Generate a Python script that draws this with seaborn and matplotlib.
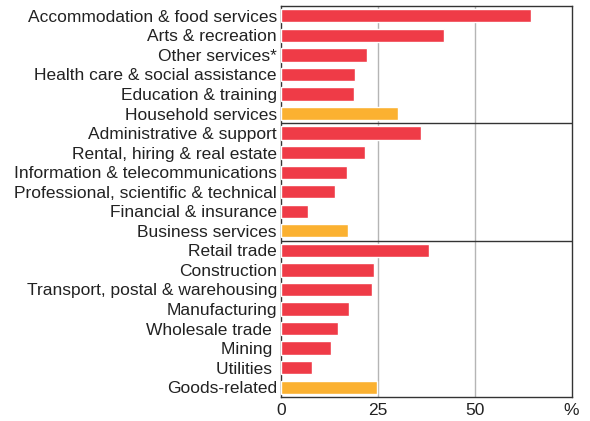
import numpy as np
import pandas as pd
import matplotlib
matplotlib.use("Agg")
import matplotlib.pyplot as plt
import seaborn as sns

categories = [
    "Accommodation & food services", "Arts & recreation", "Other services*",
    "Health care & social assistance", "Education & training", "Household services",
    "Administrative & support", "Rental, hiring & real estate",
    "Information & telecommunications", "Professional, scientific & technical",
    "Financial & insurance", "Business services",
    "Retail trade", "Construction", "Transport, postal & warehousing",
    "Manufacturing", "Wholesale trade ", "Mining ", "Utilities ", "Goods-related",
]
values = [64.4, 42.1, 22.2, 19.1, 18.9, 30.2,
          36.2, 21.6, 17.1, 13.9, 7.0, 17.2,
          38.1, 24.0, 23.6, 17.6, 14.8, 13.0, 8.1, 24.8]
kind = ["industry"] * 5 + ["total"] + ["industry"] * 5 + ["total"] + ["industry"] * 7 + ["total"]
xticks = [0, 25, 50, 75]
xticklabels = ["0", "25", "50", "%"]
group_breaks = [5.5, 11.5]

df = pd.DataFrame({"category": categories, "value": values, "kind": kind})
palette = {"industry": "#EF3B47", "total": "#FBB131"}

sns.set_style("white")
plt.rcParams["font.family"] = ["Liberation Sans", "DejaVu Sans"]

fig = plt.figure(figsize=(5.9, 4.21), dpi=100)
ax = fig.add_axes([0.4763, 0.057, 0.4925, 0.9287])

sns.barplot(data=df, y="category", x="value", hue="kind", palette=palette,
            dodge=False, width=0.68, orient="h", legend=False, ax=ax,
            saturation=1, zorder=3)

ax.set_xlim(0, 75)
ax.set_ylim(len(categories) - 0.5, -0.5)
ax.set_xticks(xticks)
ax.set_xticklabels(xticklabels, fontsize=12.5, color="#222222")
ax.tick_params(axis="x", length=0, pad=4)
ax.tick_params(axis="y", which="major", length=0, labelsize=12.5, labelcolor="#222222", pad=3)
ax.set_yticks(np.arange(len(categories) - 1) + 0.5, minor=True)
ax.tick_params(axis="y", which="minor", direction="in", length=4, width=1, color="#222222")

for x in [25, 50]:
    ax.axvline(x, color="#b5b5b5", lw=1, zorder=1)
for y in group_breaks:
    ax.axhline(y, color="#333333", lw=1, zorder=4)

for s in ax.spines.values():
    s.set_visible(True)
    s.set_color("#333333")
    s.set_linewidth(1)

ax.set_xlabel("")
ax.set_ylabel("")

fig.savefig("out.png", dpi=100)
